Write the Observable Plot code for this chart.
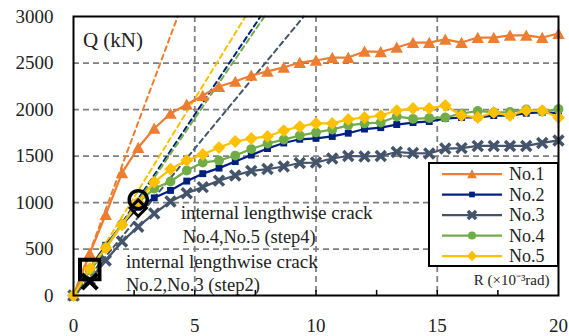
<!DOCTYPE html>
<html><head><meta charset="utf-8">
<script src="https://cdn.jsdelivr.net/npm/d3@7"></script>
<script src="https://cdn.jsdelivr.net/npm/@observablehq/plot@0.6"></script>
<style>
body{margin:0;background:#fff;}
#wrap{position:relative;width:569px;height:336px;font-family:"Liberation Serif","Times New Roman",serif;}
#wrap svg{display:block;}
#wrap svg text{font-family:"Liberation Serif","Times New Roman",serif !important;}
#legend{position:absolute;left:0;top:0;pointer-events:none;}
</style></head><body><div id="wrap"></div>
<script>
// Story drift angle R (x10^-3 rad) at each loading step
const R = [0,0.67,1.33,2,2.67,3.33,4,4.67,5.33,6,6.67,7.33,8,8.67,9.33,10,10.67,11.33,12,12.67,13.33,14,14.67,15.33,16,16.67,17.33,18,18.67,19.33,20];
// Shear force Q (kN)
const no1 = [0,452,870,1318,1591,1796,1957,2054,2150,2247,2301,2366,2409,2452,2505,2527,2559,2559,2624,2620,2667,2720,2720,2753,2720,2774,2774,2796,2796,2774,2817];
const no2 = [0,290,540,760,950,1050,1130,1230,1310,1370,1440,1510,1580,1640,1680,1690,1710,1745,1790,1805,1838,1860,1871,1903,1914,1914,1935,1935,1960,1970,1960];
const no3 = [0,170,376,580,740,882,1010,1100,1165,1235,1290,1340,1360,1387,1425,1430,1473,1500,1495,1500,1543,1532,1527,1580,1585,1608,1608,1608,1608,1640,1667];
const no4 = [0,270,520,770,1000,1150,1226,1344,1430,1452,1505,1575,1634,1677,1720,1753,1785,1830,1850,1860,1925,1900,1908,1914,1957,1984,1968,1973,2000,1978,2005];
const no5 = [0,290,510,760,1000,1220,1360,1452,1516,1591,1656,1688,1710,1774,1817,1850,1850,1893,1914,1935,1989,2011,2011,2043,1935,1914,1968,1935,1989,1989,1914];

const seriesNames = ["No.1","No.2","No.3","No.4","No.5"];
const seriesValues = [no1,no2,no3,no4,no5];
const seriesColors = ["#ED7D31","#00207F","#44546A","#70AD47","#FFC000"];
// initial stiffness lines (kN per 10^-3 rad)
const initialStiffness = [698,389,316,381,423];

const xTicks = [0,5,10,15,20];
const yTicks = [0,500,1000,1500,2000,2500,3000];
const xGrid = [5,10,15];
const yGrid = [500,1000,1500,2000,2500];
const xMinorTicks = [2.5,5,7.5,10,12.5,15,17.5];

// crack markers
const crackMarks = [
  {name:"No.2", R:0.67, Q:280, shape:"square"},
  {name:"No.3", R:0.67, Q:150, shape:"times"},
  {name:"No.4", R:2.67, Q:1030, shape:"circle"},
  {name:"No.5", R:2.67, Q:940, shape:"diamond"}
];
const notes = [
  {R:4.42, Q:882, text:"internal lengthwise crack", len:192},
  {R:4.50, Q:624, text:"No.4,No.5 (step4)", len:133},
  {R:2.16, Q:355, text:"internal lengthwise crack", len:190},
  {R:2.16, Q:108, text:"No.2,No.3 (step2)", len:134}
];
const axisTitleY = {R:0.39, Q:2742, text:"Q (kN)"};
const axisTitleX = {R:19.63, Q:161, text:"R (×10⁻³rad)"};

const diamondSym = {draw(ctx,size){const h=Math.sqrt(size/2);ctx.moveTo(0,-h);ctx.lineTo(h,0);ctx.lineTo(0,h);ctx.lineTo(-h,0);ctx.closePath();}};
const triangleSym = {draw(ctx,size){const s=Math.sqrt(size*4/Math.sqrt(3));const h=s*Math.sqrt(3)/2;ctx.moveTo(0,-h/2-0.5);ctx.lineTo(s/2,h/2);ctx.lineTo(-s/2,h/2);ctx.closePath();}};
const seriesSymbols = [triangleSym,"square","times","circle",diamondSym];
const seriesR = [4.6,3.9,4.6,4.9,5.1];

const rows = seriesNames.flatMap((name,i)=>R.map((r,k)=>({name,R:r,Q:seriesValues[i][k]})));
const stiffRows = seriesNames.flatMap((name,i)=>[{name,R:0,Q:0},{name,R:3000/initialStiffness[i],Q:3000}]);

const font = '"Liberation Serif","Times New Roman",serif';
const marks = [
  Plot.ruleX(xGrid,{stroke:"#7f7f7f",strokeWidth:1.75,strokeDasharray:"6,4"}),
  Plot.ruleY(yGrid,{stroke:"#7f7f7f",strokeWidth:1.75,strokeDasharray:"6,4"}),
];
seriesNames.forEach((name,i)=>{
  marks.push(Plot.line(stiffRows.filter(d=>d.name===name),{x:"R",y:"Q",stroke:seriesColors[i],strokeWidth:2,strokeDasharray:"5,4"}));
});
seriesNames.forEach((name,i)=>{
  const d = rows.filter(r=>r.name===name);
  marks.push(Plot.line(d,{x:"R",y:"Q",stroke:seriesColors[i],strokeWidth:2.25}));
  if (seriesSymbols[i]==="times")
    marks.push(Plot.dot(d,{x:"R",y:"Q",symbol:"times",r:4.6,stroke:seriesColors[i],strokeWidth:3.5,fill:"none"}));
  else
    marks.push(Plot.dot(d,{x:"R",y:"Q",symbol:seriesSymbols[i],r:seriesR[i],fill:seriesColors[i],stroke:"none"}));
});
const cm = s=>crackMarks.filter(d=>d.shape===s);
marks.push(
  Plot.dot(cm("square"),{x:"R",y:"Q",symbol:"square",r:11,fill:"none",stroke:"black",strokeWidth:4}),
  Plot.dot(cm("times"),{x:"R",y:"Q",symbol:"times",r:7,fill:"none",stroke:"black",strokeWidth:4}),
  Plot.dot(cm("circle"),{x:"R",y:"Q",symbol:"circle",r:9,fill:"none",stroke:"black",strokeWidth:3.5}),
  Plot.dot(cm("diamond"),{x:"R",y:"Q",symbol:diamondSym,r:6.5,fill:"none",stroke:"black",strokeWidth:3}),
  Plot.ruleX(xMinorTicks,{y1:0,y2:55,stroke:"black",strokeWidth:1.5}),
  Plot.frame({stroke:"black",strokeWidth:2}),
  Plot.axisX({ticks:xTicks,tickSize:0,tickPadding:23,fontSize:19,fontFamily:font,tickFormat:d=>String(d),label:null}),
  Plot.axisY({ticks:yTicks,tickSize:0,tickPadding:20,fontSize:19,fontFamily:font,tickFormat:d=>String(d),label:null}),
  Plot.text(notes,{x:"R",y:"Q",text:"text",textAnchor:"start",fontSize:18,fontFamily:font,fill:"#222"}),
  Plot.text([axisTitleY],{x:"R",y:"Q",text:"text",textAnchor:"start",fontSize:21,fontFamily:font,fill:"#222"}),
  Plot.text([axisTitleX],{x:"R",y:"Q",text:"text",textAnchor:"end",fontSize:15,fontFamily:font,fill:"#222"})
);

const chart = Plot.plot({
  width:569, height:336,
  marginLeft:73, marginRight:11, marginTop:16, marginBottom:41,
  style:{fontFamily:font,color:"#222",background:"white"},
  x:{domain:[0,20]},
  y:{domain:[0,3000]},
  marks
});
document.getElementById("wrap").appendChild(chart);
d3.select(chart).selectAll("text").attr("font-family",font).style("font-family",font);

// fit annotation widths to the reference
d3.select(chart).selectAll("text").each(function(){
  const n = notes.find(d=>d.text===this.textContent);
  if (n) { this.setAttribute("textLength", n.len); this.setAttribute("lengthAdjust","spacingAndGlyphs"); }
});

// legend overlay (inside the plot area, as in the reference)
const ov = d3.select("#wrap").append("svg").attr("id","legend").attr("width",569).attr("height",336);
ov.append("rect").attr("x",429).attr("y",163).attr("width",129).attr("height",103).attr("fill","white").attr("stroke","black").attr("stroke-width",2);
const legR = [3.6,3.2,3.8,4,4.2];
seriesNames.forEach((name,i)=>{
  const y = 174 + i*20.5;
  ov.append("line").attr("x1",442).attr("x2",502).attr("y1",y).attr("y2",y).attr("stroke",seriesColors[i]).attr("stroke-width",2.25);
  const sym = seriesSymbols[i];
  const type = sym==="square"?d3.symbolSquare:sym==="times"?d3.symbolTimes:sym==="circle"?d3.symbolCircle:sym;
  const p = ov.append("path").attr("transform",`translate(472,${y})`).attr("d",d3.symbol(type,Math.PI*legR[i]*legR[i])());
  if (sym==="times") p.attr("fill","none").attr("stroke",seriesColors[i]).attr("stroke-width",3.5);
  else p.attr("fill",seriesColors[i]);
  ov.append("text").attr("x",509).attr("y",y).attr("dy","0.35em").attr("font-size",18).attr("font-family",font).attr("fill","#222").text(name);
});
</script></body></html>
